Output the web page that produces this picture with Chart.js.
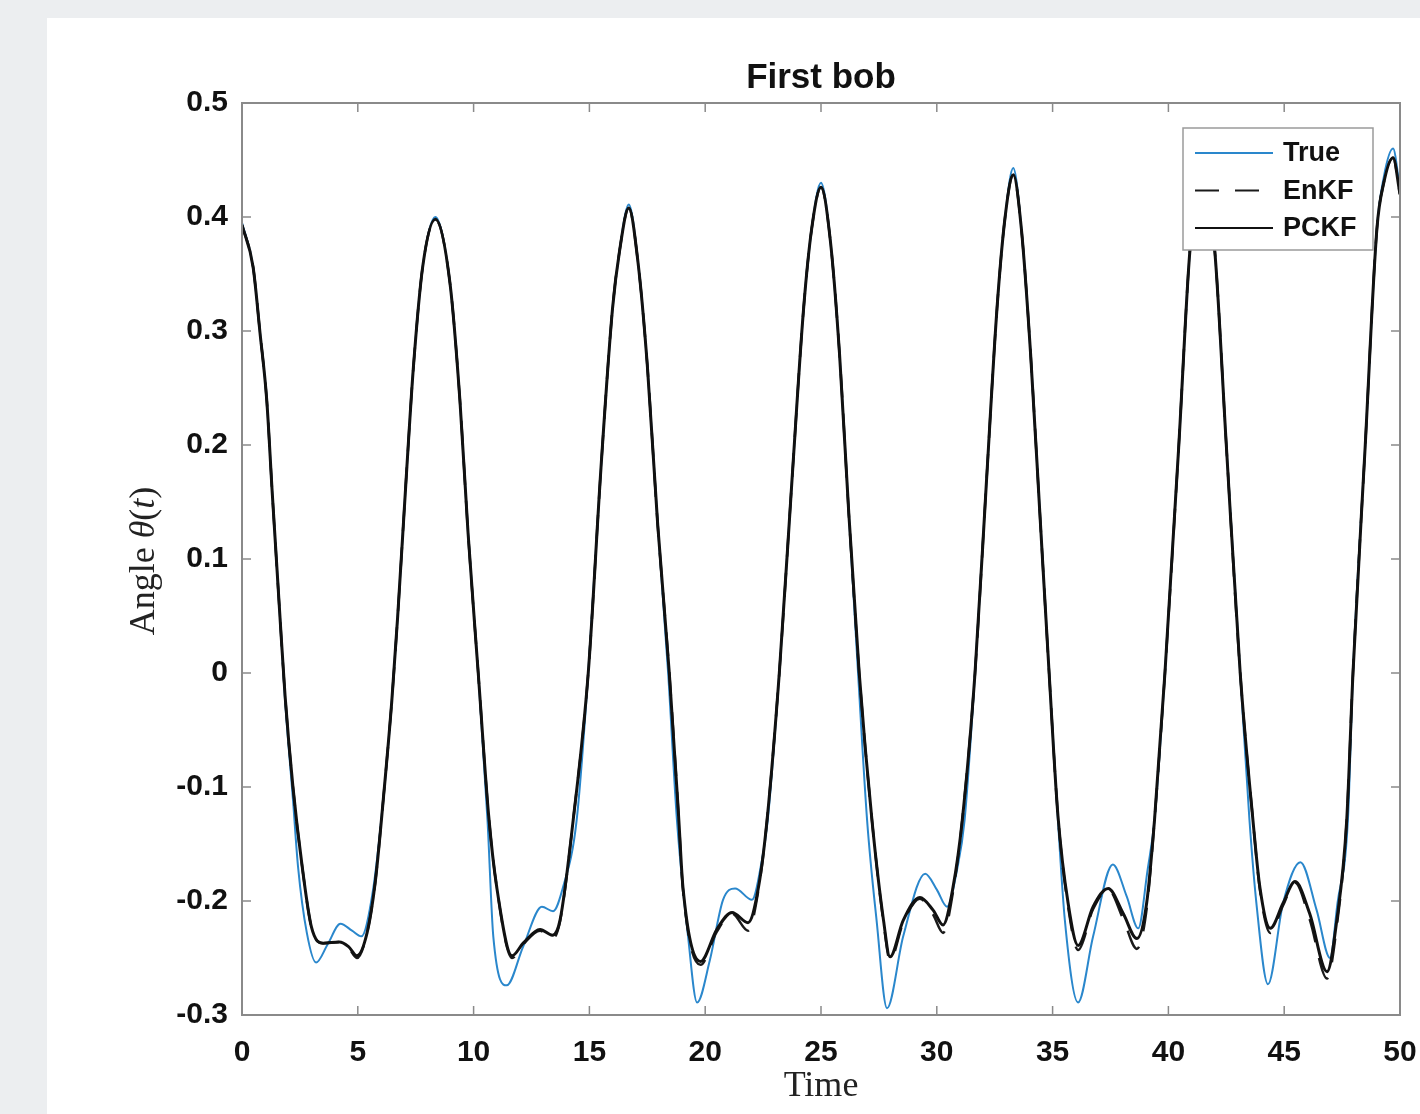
<!DOCTYPE html>
<html lang="en">
<head>
    <meta charset="UTF-8">
    <title>First bob</title>
    <style>
        body {
            margin: 0;
            padding: 0;
            width: 1420px;
            height: 1114px;
            overflow: hidden;
            background-color: #eceef0;
        }
        .panel {
            position: absolute;
            left: 47px;
            top: 18px;
            width: 1373px;
            height: 1096px;
            background: white;
        }
        canvas {
            display: block;
        }
    </style>
    <script src="https://cdn.jsdelivr.net/npm/chart.js"></script>
</head>
<body>
    <div class="panel">
        <canvas id="bobChart" width="1373" height="1096"></canvas>
    </div>

    <script>
        // axis ticks
        const xTicks = [0, 5, 10, 15, 20, 25, 30, 35, 40, 45, 50];
        const xTickLabels = ['0', '5', '10', '15', '20', '25', '30', '35', '40', '45', '50'];
        const yTicks = [-0.3, -0.2, -0.1, 0, 0.1, 0.2, 0.3, 0.4, 0.5];
        const yTickLabels = ['-0.3', '-0.2', '-0.1', '0', '0.1', '0.2', '0.3', '0.4', '0.5'];

        // True trajectory
        const trueTime = [
            0, 0.48, 0.78, 1.07, 1.3, 1.64, 1.86, 2.2, 2.42, 2.8, 3.2, 3.7, 4.25, 4.75, 5.15, 5.66, 6.1, 6.47, 6.72, 7.12, 7.4, 7.8, 8.35,
            8.98, 9.41, 9.76, 10.2, 10.6, 10.85, 11.43, 12.14, 12.95, 13.43, 13.86, 14.45, 14.95, 15.5, 16.0, 16.3, 16.7,
            17.1, 17.5, 17.95, 18.4, 18.78, 19.26, 19.65, 20.2, 20.77, 21.29, 22.02, 22.45, 22.7, 23.2, 23.75, 24.25, 24.6, 25.0,
            25.4, 25.8, 26.2, 26.6, 26.99, 27.4, 27.85, 28.55, 29.5, 30.0, 30.44, 30.87, 31.2, 31.65, 32.15, 32.6, 32.95, 33.3,
            33.65, 34.05, 34.45, 34.85, 35.23, 35.53, 36.1, 36.75, 37.6, 38.2, 38.7, 39.1, 39.4, 39.85, 40.45, 40.93, 41.45,
            42.0, 42.5, 43.1, 43.5, 43.8, 44.3, 44.95, 45.7, 46.4, 46.98, 47.3, 47.75, 47.97, 48.5, 49.0, 49.3, 49.7, 50.0
        ];
        const trueAngle = [
            0.395, 0.356, 0.298, 0.239, 0.16, 0.049, -0.024, -0.111, -0.170, -0.228, -0.254, -0.238, -0.220, -0.226, -0.231, -0.190, -0.111, -0.024, 0.049, 0.181, 0.268, 0.356, 0.400,
            0.342, 0.239, 0.123, 0.0, -0.129, -0.231, -0.274, -0.240, -0.205, -0.209, -0.188, -0.129, 0.0, 0.18, 0.32, 0.37, 0.411,
            0.36, 0.27, 0.13, 0.0, -0.129, -0.231, -0.289, -0.252, -0.199, -0.189, -0.199, -0.164, -0.129, 0.0, 0.17, 0.32, 0.39, 0.430,
            0.38, 0.28, 0.14, 0.0, -0.129, -0.217, -0.294, -0.231, -0.176, -0.19, -0.205, -0.173, -0.129, 0.0, 0.17, 0.32, 0.40, 0.443,
            0.39, 0.28, 0.14, 0.0, -0.129, -0.217, -0.289, -0.231, -0.168, -0.196, -0.224, -0.173, -0.129, 0.0, 0.2, 0.371, 0.452,
            0.371, 0.2, 0.0, -0.129, -0.202, -0.273, -0.202, -0.166, -0.208, -0.250, -0.202, -0.129, 0.0, 0.2, 0.389, 0.435, 0.460, 0.424
        ];

        // filter estimates share one time grid
        const filterTime = [
            0, 0.48, 0.78, 1.07, 1.3, 1.64, 1.86, 2.2, 2.6, 3.0, 3.5, 4.2, 4.6, 4.96, 5.4, 5.75, 6.1, 6.47, 6.72, 7.12, 7.4, 7.8, 8.35,
            8.98, 9.41, 9.76, 10.2, 10.65, 11.0, 11.66, 12.14, 12.87, 13.4, 13.73, 14.3, 14.95, 15.5, 16.0, 16.3, 16.7,
            17.1, 17.5, 17.95, 18.45, 18.85, 19.04, 19.8, 20.5, 21.16, 21.85, 22.3, 22.67, 23.2, 23.75, 24.25, 24.6, 25.0,
            25.4, 25.8, 26.2, 26.65, 27.2, 27.7, 27.98, 28.55, 29.27, 29.84, 30.27, 30.7, 31.1, 31.65, 32.15, 32.6, 32.95, 33.3,
            33.65, 34.05, 34.45, 34.85, 35.23, 35.67, 36.1, 36.75, 37.4, 38.05, 38.64, 39.06, 39.4, 39.85, 40.45, 40.93, 41.45,
            42.0, 42.5, 43.1, 43.65, 43.95, 44.4, 44.95, 45.47, 46.1, 46.85, 47.27, 47.7, 47.97, 48.5, 49.0, 49.3, 49.7, 50.0
        ];
        const enkfAngle = [
            0.393, 0.356, 0.298, 0.239, 0.16, 0.049, -0.02, -0.10, -0.170, -0.223, -0.237, -0.236, -0.241, -0.250, -0.228, -0.184, -0.111, -0.024, 0.049, 0.181, 0.268, 0.356, 0.398,
            0.342, 0.239, 0.123, 0.0, -0.125, -0.188, -0.250, -0.238, -0.226, -0.233, -0.218, -0.129, 0.0, 0.18, 0.32, 0.37, 0.408,
            0.36, 0.27, 0.13, 0.0, -0.125, -0.190, -0.256, -0.227, -0.211, -0.226, -0.190, -0.129, 0.0, 0.17, 0.32, 0.39, 0.426,
            0.38, 0.28, 0.14, 0.0, -0.129, -0.219, -0.252, -0.219, -0.198, -0.212, -0.228, -0.192, -0.129, 0.0, 0.17, 0.32, 0.40, 0.437,
            0.39, 0.28, 0.14, 0.0, -0.125, -0.205, -0.243, -0.207, -0.190, -0.216, -0.242, -0.207, -0.129, 0.0, 0.2, 0.371, 0.446,
            0.371, 0.2, 0.0, -0.129, -0.190, -0.228, -0.204, -0.184, -0.216, -0.268, -0.222, -0.129, 0.0, 0.2, 0.389, 0.43, 0.452, 0.42
        ];
        const pckfAngle = [
            0.393, 0.356, 0.298, 0.239, 0.16, 0.049, -0.02, -0.10, -0.170, -0.223, -0.237, -0.236, -0.240, -0.248, -0.228, -0.184, -0.111, -0.024, 0.049, 0.181, 0.268, 0.356, 0.398,
            0.342, 0.239, 0.123, 0.0, -0.125, -0.188, -0.248, -0.237, -0.225, -0.230, -0.217, -0.129, 0.0, 0.18, 0.32, 0.37, 0.408,
            0.36, 0.27, 0.13, 0.0, -0.125, -0.188, -0.253, -0.225, -0.210, -0.219, -0.188, -0.129, 0.0, 0.17, 0.32, 0.39, 0.426,
            0.38, 0.28, 0.14, 0.0, -0.129, -0.217, -0.249, -0.217, -0.197, -0.208, -0.221, -0.188, -0.129, 0.0, 0.17, 0.32, 0.40, 0.437,
            0.39, 0.28, 0.14, 0.0, -0.125, -0.202, -0.239, -0.205, -0.189, -0.211, -0.233, -0.202, -0.129, 0.0, 0.2, 0.371, 0.446,
            0.371, 0.2, 0.0, -0.129, -0.188, -0.224, -0.202, -0.183, -0.211, -0.262, -0.217, -0.129, 0.0, 0.2, 0.389, 0.43, 0.452, 0.42
        ];

        const toPoints = (ts, ys) => ts.map((t, i) => ({ x: t, y: ys[i] }));

        const sans = '"Liberation Sans", Arial, sans-serif';
        const serif = '"Liberation Serif", "Times New Roman", serif';
        const tickFont = { family: sans, size: 30, weight: 'bold' };
        const frameColor = '#8a8a8a';

        // box round the plot with inward ticks, like the matlab axes
        const framePlugin = {
            id: 'frame',
            afterDatasetsDraw(chart) {
                const { ctx, chartArea: a, scales } = chart;
                const len = 9;
                ctx.save();
                ctx.strokeStyle = frameColor;
                ctx.lineWidth = 1.5;
                ctx.beginPath();
                xTicks.forEach(v => {
                    const px = scales.x.getPixelForValue(v);
                    ctx.moveTo(px, a.bottom); ctx.lineTo(px, a.bottom - len);
                    ctx.moveTo(px, a.top); ctx.lineTo(px, a.top + len);
                });
                yTicks.forEach(v => {
                    const py = scales.y.getPixelForValue(v);
                    ctx.moveTo(a.left, py); ctx.lineTo(a.left + len, py);
                    ctx.moveTo(a.right, py); ctx.lineTo(a.right - len, py);
                });
                ctx.stroke();
                ctx.lineWidth = 2;
                ctx.strokeRect(a.left, a.top, a.right - a.left, a.bottom - a.top);
                ctx.restore();
            }
        };

        // title and axis titles; theta and t in italic like the latex label
        const titlesPlugin = {
            id: 'titles',
            afterDraw(chart) {
                const { ctx, chartArea: a } = chart;
                const cx = (a.left + a.right) / 2;
                ctx.save();
                ctx.textBaseline = 'middle';
                ctx.textAlign = 'center';
                ctx.fillStyle = '#111';
                ctx.font = 'bold 35px ' + sans;
                ctx.fillText('First bob', cx, a.top - 25);

                ctx.fillStyle = '#222';
                ctx.font = '36px ' + serif;
                ctx.fillText('Time', cx, a.bottom + 72);

                const parts = [
                    { t: 'Angle ', f: '36px ' + serif },
                    { t: 'θ', f: 'italic 36px ' + serif },
                    { t: '(', f: '36px ' + serif },
                    { t: 't', f: 'italic 36px ' + serif },
                    { t: ')', f: '36px ' + serif }
                ];
                let total = 0;
                parts.forEach(p => { ctx.font = p.f; p.w = ctx.measureText(p.t).width; total += p.w; });
                ctx.translate(98, (a.top + a.bottom) / 2 + 2);
                ctx.rotate(-Math.PI / 2);
                ctx.textAlign = 'left';
                let x = -total / 2;
                parts.forEach(p => { ctx.font = p.f; ctx.fillText(p.t, x, 0); x += p.w; });
                ctx.restore();
            }
        };

        // legend box inside the top right corner
        const boxLegendPlugin = {
            id: 'boxLegend',
            afterDraw(chart) {
                const { ctx, chartArea: a } = chart;
                const w = 190, h = 122;
                const left = a.right - 27 - w, top = a.top + 25;
                ctx.save();
                ctx.fillStyle = 'white';
                ctx.fillRect(left, top, w, h);
                ctx.strokeStyle = '#9a9a9a';
                ctx.lineWidth = 1.5;
                ctx.strokeRect(left, top, w, h);
                ctx.font = 'bold 27px ' + sans;
                ctx.textBaseline = 'middle';
                ctx.fillStyle = '#111';
                chart.data.datasets.forEach((ds, i) => {
                    const y = top + 25 + i * 37.5;
                    ctx.beginPath();
                    ctx.strokeStyle = ds.borderColor;
                    ctx.lineWidth = 2;
                    ctx.setLineDash(ds.borderDash || []);
                    ctx.moveTo(left + 12, y);
                    ctx.lineTo(left + 90, y);
                    ctx.stroke();
                    ctx.setLineDash([]);
                    ctx.fillText(ds.label, left + 100, y + 1);
                });
                ctx.restore();
            }
        };

        const ctx = document.getElementById('bobChart').getContext('2d');
        new Chart(ctx, {
            type: 'line',
            data: {
                datasets: [
                    {
                        label: 'True',
                        data: toPoints(trueTime, trueAngle),
                        borderColor: '#2a87cc',
                        borderWidth: 2,
                        order: 3
                    },
                    {
                        label: 'EnKF',
                        data: toPoints(filterTime, enkfAngle),
                        borderColor: '#1a1a1a',
                        borderWidth: 2.5,
                        borderDash: [24, 16],
                        order: 2
                    },
                    {
                        label: 'PCKF',
                        data: toPoints(filterTime, pckfAngle),
                        borderColor: '#111111',
                        borderWidth: 3,
                        order: 1
                    }
                ]
            },
            options: {
                responsive: false,
                animation: false,
                devicePixelRatio: 1,
                parsing: false,
                layout: { padding: { left: 0, right: 20, top: 85, bottom: 0 } },
                elements: {
                    point: { radius: 0 },
                    line: { cubicInterpolationMode: 'monotone', fill: false }
                },
                plugins: {
                    legend: { display: false },
                    tooltip: { enabled: false },
                    title: { display: false }
                },
                scales: {
                    x: {
                        type: 'linear',
                        min: 0,
                        max: 50,
                        grid: { display: false, drawTicks: false },
                        border: { display: false },
                        afterBuildTicks: s => { s.ticks = xTicks.map(v => ({ value: v })); },
                        afterFit: s => { s.height = 99; s.paddingLeft = 0; s.paddingRight = 0; },
                        ticks: {
                            font: tickFont,
                            color: '#111',
                            padding: 20,
                            maxRotation: 0,
                            callback: (v, i) => xTickLabels[i]
                        }
                    },
                    y: {
                        min: -0.3,
                        max: 0.5,
                        grid: { display: false, drawTicks: false },
                        border: { display: false },
                        afterBuildTicks: s => { s.ticks = yTicks.map(v => ({ value: v })); },
                        afterFit: s => { s.width = 195; s.paddingTop = 0; s.paddingBottom = 0; },
                        ticks: {
                            font: tickFont,
                            color: '#111',
                            padding: 14,
                            callback: (v, i) => yTickLabels[i]
                        }
                    }
                }
            },
            plugins: [framePlugin, titlesPlugin, boxLegendPlugin]
        });
    </script>
</body>
</html>
